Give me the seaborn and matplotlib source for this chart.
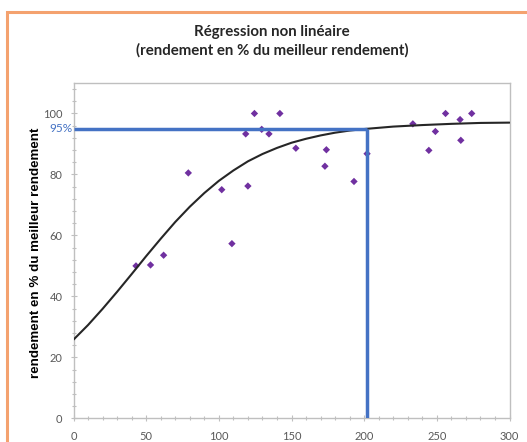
import matplotlib
matplotlib.use("Agg")
import matplotlib.pyplot as plt
import matplotlib.patches as patches
from matplotlib.ticker import MultipleLocator
import seaborn as sns
import pandas as pd

# observed yields (x, % of best yield)
obs_x = [43, 53, 62, 79, 102, 109, 118.5, 120, 124.5, 129.5, 134.5, 142,
         153, 173, 174, 193, 202, 233.5, 244.5, 249, 256, 266, 266.5, 274]
obs_y = [50, 50.3, 53.5, 80.5, 75, 57.3, 93.3, 76.2, 100, 94.8, 93.3, 100,
         88.6, 82.7, 88.1, 77.7, 86.8, 96.6, 87.9, 94.1, 100, 98, 91.2, 100]

# fitted curve
fit_x = [0, 10, 20, 30, 40, 50, 60, 70, 80, 90, 100, 110, 120, 130, 140,
         150, 160, 170, 180, 190, 200, 220, 240, 260, 280, 300]
fit_y = [25.8, 30.6, 35.9, 41.5, 47.3, 53.2, 58.9, 64.4, 69.4, 73.9, 77.9,
         81.3, 84.3, 86.7, 88.7, 90.4, 91.7, 92.8, 93.7, 94.4, 94.9, 95.7,
         96.2, 96.6, 96.9, 97.0]

# 95% threshold and the x where the curve reaches it
target_y = 95
target_x = 202

obs = pd.DataFrame({"x": obs_x, "y": obs_y})
fit = pd.DataFrame({"x": fit_x, "y": fit_y})

sns.set_style("white")
plt.rcParams["font.family"] = ["Lato", "DejaVu Sans"]

fig = plt.figure(figsize=(5.27, 4.42), dpi=100)
ax = fig.add_axes([73.5 / 527, 1 - 418.3 / 442, 436 / 527, 335.3 / 442])

sns.scatterplot(data=obs, x="x", y="y", ax=ax, marker="D", s=14,
                color="#7030A0", edgecolor="none", zorder=3)
sns.lineplot(data=fit, x="x", y="y", ax=ax, color="#262626", lw=1.5, zorder=4)

ax.plot([0, target_x], [target_y, target_y], color="#4472C4", lw=2.5, zorder=5,
        solid_capstyle="butt")
ax.plot([target_x, target_x], [0, target_y], color="#4472C4", lw=2.5, zorder=5,
        solid_capstyle="butt")
ax.text(-0.003, target_y, "95%", transform=ax.get_yaxis_transform(),
        ha="right", va="center", color="#4472C4", fontsize=8.5)

ax.set_xlim(0, 300)
ax.set_ylim(0, 110)
ax.xaxis.set_major_locator(MultipleLocator(50))
ax.xaxis.set_minor_locator(MultipleLocator(10))
ax.yaxis.set_major_locator(MultipleLocator(20))
ax.yaxis.set_minor_locator(MultipleLocator(4))

for s in ax.spines.values():
    s.set_color("#BFBFBF")
    s.set_linewidth(1)
ax.tick_params(which="major", direction="inout", length=5, width=0.8,
               color="#BFBFBF", labelcolor="#595959", labelsize=8)
ax.tick_params(which="minor", direction="inout", length=3, width=0.8,
               color="#BFBFBF")
ax.tick_params(axis="y", which="major", pad=5.5)
ax.tick_params(axis="x", which="major", pad=6.5)
ax.tick_params(bottom=True, left=True, which="both")

ax.set_xlabel("")
ax.set_ylabel("rendement en % du meilleur rendement", family="Liberation Sans",
              fontweight="bold", fontsize=9.6, color="black")
ax.yaxis.set_label_coords(-0.072, 0.493)

fig.text(272 / 527, 1 - 32 / 442, "Régression non linéaire",
         ha="center", va="center", fontsize=10.8, fontweight="bold")
fig.text(272 / 527, 1 - 50 / 442, "(rendement en % du meilleur rendement)",
         ha="center", va="center", fontsize=10.8, fontweight="bold")

# orange frame of the chart area (cropped on the right and bottom)
fig.patches.append(patches.Rectangle((7 / 527, -0.1), 1.2, 0.1 + 1 - 12 / 442,
                                     transform=fig.transFigure, fill=False,
                                     edgecolor="#F4A26F", lw=2.2))

fig.savefig("out.png", dpi=100)
